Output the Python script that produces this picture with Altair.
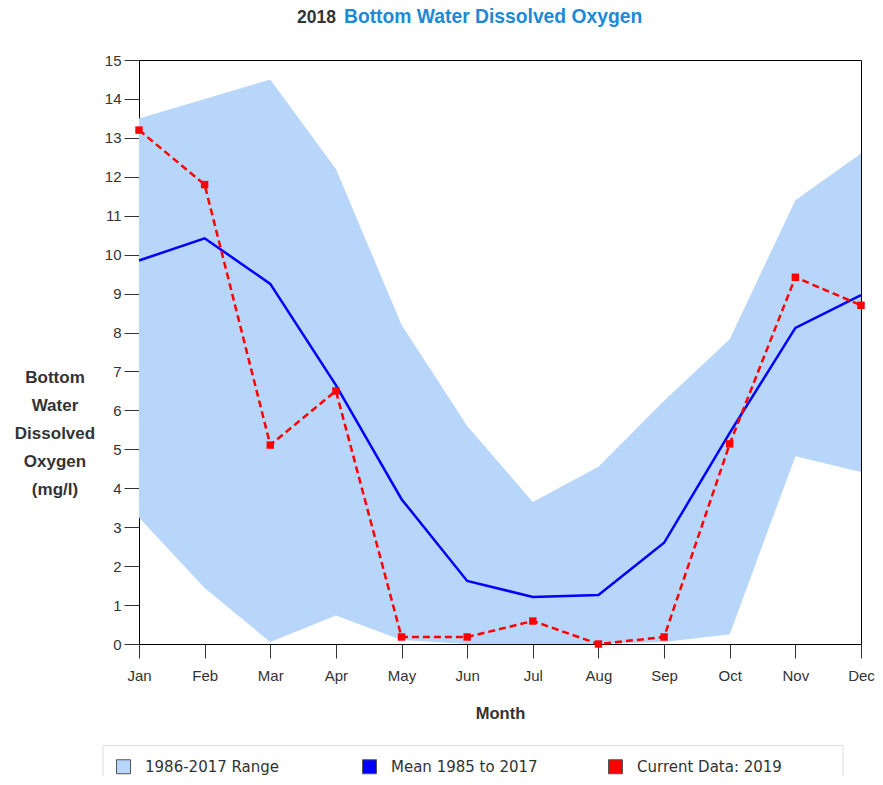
import altair as alt
import pandas as pd

months = ["Jan", "Feb", "Mar", "Apr", "May", "Jun", "Jul", "Aug", "Sep", "Oct", "Nov", "Dec"]
range_high = [13.5, 14.0, 14.5, 12.2, 8.2, 5.6, 3.65, 4.55, 6.25, 7.83, 11.4, 12.6]
range_low = [3.25, 1.44, 0.05, 0.73, 0.1, 0.0, 0.0, 0.0, 0.05, 0.25, 4.82, 4.42]
mean_1985_2017 = [9.85, 10.42, 9.25, 6.65, 3.72, 1.62, 1.21, 1.26, 2.6, 5.42, 8.12, 8.96]
current_2019 = [13.2, 11.8, 5.11, 6.5, 0.18, 0.18, 0.59, 0.0, 0.18, 5.14, 9.42, 8.7]

legend_labels = ["1986-2017 Range", "Mean 1985 to 2017", "Current Data: 2019"]
legend_colors = ["#b8d6fa", "#0000ff", "#ff0000"]

y_title_lines = ["Bottom", "Water", "Dissolved", "Oxygen", "(mg/l)"]

df = pd.DataFrame({
    "month": months,
    "high": range_high,
    "low": range_low,
    "mean": mean_1985_2017,
    "current": current_2019,
})

FONT = "Liberation Sans"

x_axis = alt.Axis(
    title="Month", labelAngle=0, labelFont=FONT, labelFontSize=15, labelColor="#333",
    labelPadding=10, tickSize=14, tickColor="#333", domainColor="#000",
    titleFont=FONT, titleFontSize=16.5, titleFontWeight="bold", titleColor="#333",
    titlePadding=22,
)
x_scale = alt.Scale(type="point", padding=0)
y_scale = alt.Scale(domain=[0, 15], nice=False, zero=True)
y_axis = alt.Axis(
    values=list(range(16)), title=None, grid=False, labelFont=FONT, labelFontSize=15,
    labelColor="#333", labelPadding=3, tickSize=15, tickColor="#333", domainColor="#000",
    labelOverlap=False,
)


def xe():
    return alt.X("month:O", sort=months, scale=x_scale, axis=x_axis)


def ye(field):
    return alt.Y(field, type="quantitative", scale=y_scale, axis=y_axis)


base = alt.Chart(df)

area = base.mark_area(color=legend_colors[0], opacity=1).encode(
    x=xe(), y=ye("high"), y2="low:Q",
)

mean_line = base.mark_line(color=legend_colors[1], strokeWidth=2.5).encode(
    x=xe(), y=ye("mean"),
)

current_line = base.mark_line(color=legend_colors[2], strokeWidth=2.5, strokeDash=[7, 4]).encode(
    x=xe(), y=ye("current"),
)

current_pts = base.mark_point(shape="square", filled=True, size=55, color=legend_colors[2], opacity=1).encode(
    x=xe(), y=ye("current"),
)

title_df = pd.DataFrame({"a": ["2018"], "b": ["Bottom Water Dissolved Oxygen"]})
title_a = alt.Chart(title_df).mark_text(
    font=FONT, fontSize=17.5, fontWeight="bold", color="#333", align="right", baseline="alphabetic"
).encode(text="a:N", x=alt.value(197), y=alt.value(-37))
title_b = alt.Chart(title_df).mark_text(
    font=FONT, fontSize=19.3, fontWeight="bold", color="#1c8ad6", align="left", baseline="alphabetic"
).encode(text="b:N", x=alt.value(205), y=alt.value(-37))

y_title = alt.Chart(title_df).mark_text(
    font=FONT, fontSize=17, fontWeight="bold", color="#333", align="center", baseline="alphabetic",
    lineHeight=28, text=y_title_lines,
).encode(x=alt.value(-84), y=alt.value(323))

legend_df = pd.DataFrame({"series": legend_labels})
legend_layer = alt.Chart(legend_df).mark_square(size=0, opacity=0).encode(
    color=alt.Color(
        "series:N",
        scale=alt.Scale(domain=legend_labels, range=legend_colors),
        legend=alt.Legend(
            title=None, orient="none", legendX=-36, legendY=686, direction="horizontal",
            columns=3, gridAlign="all", columnPadding=68, symbolType="square", symbolSize=196,
            symbolOpacity=1, symbolStrokeColor="#555", symbolStrokeWidth=1, labelOffset=14,
            labelFont="DejaVu Sans", labelFontSize=15, labelColor="#333", padding=13,
            labelLimit=300,
        ),
    ),
    x=alt.value(0),
    y=alt.value(0),
)

legend_box = alt.Chart(title_df).mark_rect(
    fill=None, stroke="#dddddd", strokeWidth=1
).encode(x=alt.value(-36), x2=alt.value(704), y=alt.value(685.5), y2=alt.value(760))

chart = alt.layer(
    area, mean_line, current_line, current_pts, title_a, title_b, y_title, legend_box, legend_layer
).properties(
    width=722, height=584,
    autosize=alt.AutoSizeParams(type="none"),
    padding={"left": 131, "top": 52, "right": 14, "bottom": 132},
).configure(
    background="white",
    view=alt.ViewConfig(stroke="#000000", strokeWidth=1),
)

chart.save("out.html", embed_options={"renderer": "svg", "actions": False})
